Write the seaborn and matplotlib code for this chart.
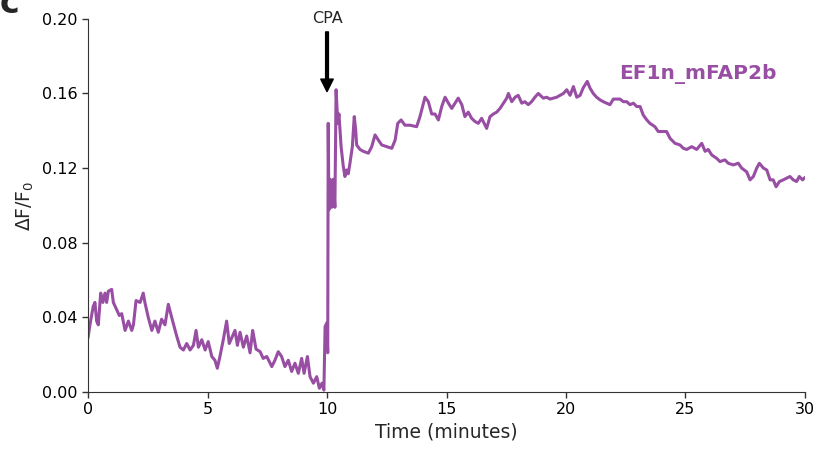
import numpy as np
import pandas as pd
import matplotlib
matplotlib.use("Agg")
import matplotlib.pyplot as plt
import seaborn as sns

# Trace (time in minutes, dF/F0)
time_min = [0.00, 0.08, 0.22, 0.29, 0.36, 0.43, 0.53, 0.62, 0.71, 0.78, 0.85, 0.99, 1.06, 1.20, 1.31, 1.41,
            1.55, 1.69, 1.83, 1.90, 2.01, 2.18, 2.31, 2.38, 2.52, 2.67, 2.80, 2.94, 3.08, 3.22, 3.36, 3.50,
            3.71, 3.85, 3.99, 4.13, 4.27, 4.41, 4.52, 4.62, 4.76, 4.90, 5.03, 5.18, 5.31, 5.41, 5.52, 5.66,
            5.80, 5.91, 6.05, 6.15, 6.25, 6.36, 6.50, 6.64, 6.78, 6.89, 7.03, 7.20, 7.33, 7.48, 7.69, 7.82,
            7.96, 8.10, 8.24, 8.38, 8.52, 8.66, 8.80, 8.94, 9.04, 9.18, 9.29, 9.43, 9.57, 9.68, 9.79, 9.87,
            9.92, 9.99, 10.03, 10.05, 10.08, 10.13, 10.20, 10.26, 10.33, 10.38, 10.45, 10.50, 10.59, 10.68,
            10.75, 10.82, 10.89, 10.96, 11.06, 11.14, 11.20, 11.24, 11.38, 11.52, 11.73, 11.87, 12.01, 12.15,
            12.29, 12.50, 12.71, 12.85, 12.96, 13.10, 13.26, 13.47, 13.75, 13.89, 14.10, 14.24, 14.38, 14.52,
            14.66, 14.80, 14.94, 15.08, 15.22, 15.36, 15.49, 15.64, 15.77, 15.91, 16.05, 16.19, 16.33, 16.47,
            16.68, 16.82, 16.96, 17.10, 17.24, 17.38, 17.52, 17.59, 17.73, 17.87, 18.00, 18.15, 18.28, 18.42,
            18.56, 18.70, 18.84, 19.05, 19.19, 19.33, 19.47, 19.61, 19.75, 19.89, 20.03, 20.17, 20.31, 20.45,
            20.59, 20.72, 20.89, 21.00, 21.14, 21.28, 21.42, 21.56, 21.70, 21.84, 21.98, 22.12, 22.26, 22.40,
            22.54, 22.68, 22.82, 22.96, 23.10, 23.23, 23.37, 23.51, 23.72, 23.86, 24.02, 24.21, 24.35, 24.56,
            24.77, 24.91, 25.05, 25.26, 25.47, 25.68, 25.82, 25.95, 26.10, 26.30, 26.44, 26.65, 26.79, 27.00,
            27.21, 27.35, 27.56, 27.70, 27.84, 27.98, 28.09, 28.26, 28.40, 28.54, 28.67, 28.79, 28.93, 29.09,
            29.23, 29.37, 29.51, 29.65, 29.76, 29.90, 30.00]
dff0 = [0.029, 0.036, 0.046, 0.048, 0.038, 0.036, 0.053, 0.048, 0.053, 0.048, 0.054, 0.055, 0.048, 0.044, 0.041, 0.042,
        0.033, 0.038, 0.033, 0.036, 0.049, 0.048, 0.053, 0.048, 0.040, 0.033, 0.038, 0.032, 0.039, 0.036, 0.047, 0.040,
        0.030, 0.024, 0.0225, 0.026, 0.0225, 0.025, 0.033, 0.024, 0.028, 0.0225, 0.027, 0.019, 0.017, 0.0127, 0.019, 0.028,
        0.038, 0.026, 0.030, 0.033, 0.025, 0.032, 0.024, 0.030, 0.021, 0.033, 0.023, 0.0216, 0.018, 0.019, 0.0136, 0.017,
        0.0216, 0.019, 0.0136, 0.017, 0.011, 0.0154, 0.010, 0.018, 0.010, 0.019, 0.0082, 0.0047, 0.0082, 0.002, 0.0047, 0.001,
        0.035, 0.037, 0.021, 0.144, 0.0976, 0.114, 0.099, 0.114, 0.099, 0.162, 0.144, 0.149, 0.1315, 0.121,
        0.1155, 0.119, 0.117, 0.1226, 0.1315, 0.1476, 0.1405, 0.1324, 0.130, 0.129, 0.128, 0.1315, 0.1378, 0.135,
        0.1324, 0.1315, 0.1306, 0.135, 0.144, 0.1458, 0.143, 0.143, 0.1422, 0.1476, 0.158, 0.1556, 0.149, 0.149,
        0.1458, 0.153, 0.158, 0.1548, 0.152, 0.1548, 0.1575, 0.154, 0.1476, 0.150, 0.1467, 0.145, 0.144, 0.1467,
        0.1413, 0.1476, 0.149, 0.150, 0.152, 0.1548, 0.1575, 0.160, 0.1556, 0.158, 0.159, 0.1548, 0.1556, 0.154,
        0.1556, 0.158, 0.160, 0.1575, 0.158, 0.157, 0.1575, 0.158, 0.159, 0.160, 0.162, 0.159, 0.1637, 0.158,
        0.159, 0.163, 0.1665, 0.163, 0.160, 0.158, 0.1566, 0.1556, 0.1548, 0.154, 0.157, 0.157, 0.157, 0.1556,
        0.1556, 0.154, 0.1548, 0.153, 0.153, 0.1485, 0.146, 0.144, 0.1422, 0.1396, 0.1396, 0.1396, 0.136, 0.1333,
        0.1324, 0.1306, 0.130, 0.1315, 0.130, 0.1333, 0.129, 0.130, 0.127, 0.1253, 0.1235, 0.1244, 0.1226, 0.1217,
        0.1226, 0.120, 0.118, 0.1137, 0.1155, 0.120, 0.1226, 0.120, 0.119, 0.1137, 0.1137, 0.110, 0.1128, 0.1137,
        0.1146, 0.1155, 0.1137, 0.1128, 0.1155, 0.1137, 0.115]

series_name = "EF1n_mFAP2b"
x_ticks = [0, 5, 10, 15, 20, 25, 30]
y_ticks = [0.00, 0.04, 0.08, 0.12, 0.16, 0.20]
cpa_time = 10
cpa_label = "CPA"

df = pd.DataFrame({"t": time_min, "v": dff0})

sns.set_style("ticks")
plt.rcParams["font.family"] = ["DejaVu Sans"]
color = "#984ea3"

fig = plt.figure(figsize=(8.18, 4.49), dpi=100)
ax = fig.add_axes([0.1076, 0.127, 0.8765, 0.831])
sns.lineplot(data=df, x="t", y="v", ax=ax, color=color, linewidth=2.2,
             estimator=None, sort=False)

ax.set_xlim(0, 30)
ax.set_ylim(0, 0.20)
ax.set_xticks(x_ticks)
ax.set_yticks(y_ticks)
ax.set_yticklabels([f"{y:.2f}" for y in y_ticks])
ax.tick_params(labelsize=11.5, length=4, width=1, colors="#333333", labelcolor="black")
ax.set_xlabel("Time (minutes)", fontsize=13.5)
ax.set_ylabel(r"$\Delta$F/F$_0$", fontsize=13.5)
sns.despine(ax=ax)
for s in ["left", "bottom"]:
    ax.spines[s].set_color("#333333")

ax.text(cpa_time, 0.2, cpa_label, ha="center", va="center", fontsize=11.5)
ax.annotate("", xy=(cpa_time, 0.161), xytext=(cpa_time, 0.193),
            annotation_clip=False,
            arrowprops=dict(facecolor="black", edgecolor="black", width=2.0,
                            headwidth=9, headlength=9, shrink=0.0))
ax.text(25.5, 0.1705, series_name, color=color, fontsize=14.5, fontweight="bold",
        ha="center", va="center")

fig.text(0.0, 0.972, "c", fontsize=24, fontweight="bold", ha="left", va="baseline")

fig.savefig("out.png", dpi=100)
